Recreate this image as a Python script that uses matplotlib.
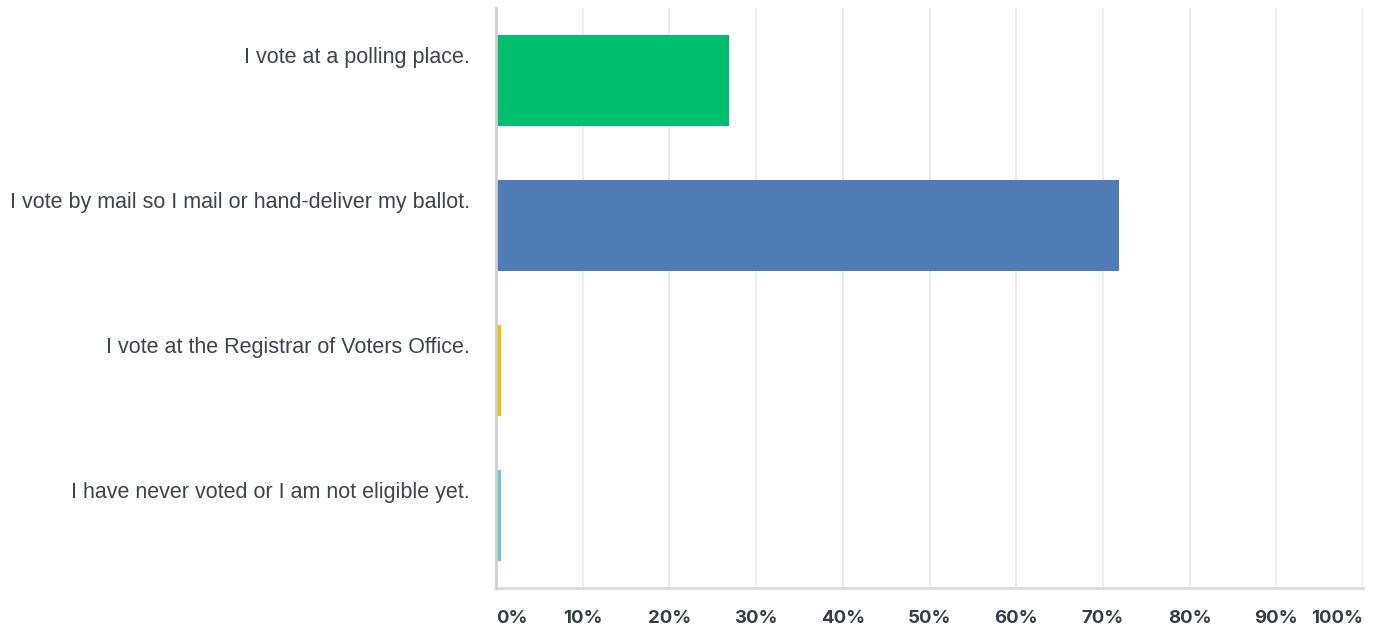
import matplotlib
matplotlib.use("Agg")
import matplotlib.pyplot as plt
from matplotlib.ticker import FixedLocator
from matplotlib.transforms import blended_transform_factory

# survey answers and share of respondents (%)
categories = [
    "I vote at a polling place.",
    "I vote by mail so I mail or hand-deliver my ballot.",
    "I vote at the Registrar of Voters Office.",
    "I have never voted or I am not eligible yet.",
]
shares = [26.9, 71.8, 0.6, 0.6]
colors = ["#00bf6f", "#507cb6", "#f9be00", "#6bc8cd"]
tick_values = [0, 10, 20, 30, 40, 50, 60, 70, 80, 90, 100]
tick_labels = [f"{v}%" for v in tick_values]

fig = plt.figure(figsize=(13.76, 6.30), dpi=100)
ax = fig.add_axes([0.3605, 0.0667, 0.6301, 0.9206])

ypos = list(range(len(categories)))
ax.barh(ypos, shares, height=0.628, color=colors, zorder=3)

ax.set_xlim(0, 100)
ax.set_ylim(len(categories) - 0.5, -0.5)

# light vertical grid
ax.xaxis.set_major_locator(FixedLocator(tick_values))
ax.grid(axis="x", color="#ececec", linewidth=1.5, zorder=0)
ax.grid(axis="y", visible=False)

for side in ("top", "right"):
    ax.spines[side].set_visible(False)
ax.spines["left"].set_color("#cfcfcf")
ax.spines["left"].set_linewidth(2)
ax.spines["bottom"].set_color("#d9d9d9")
ax.spines["bottom"].set_linewidth(2)
ax.spines["left"].set_zorder(4)

# category labels sit a bit above the bar centre, right-aligned left of the axis
ax.set_yticks([])
lab_tr = blended_transform_factory(ax.transAxes, ax.transData)
for y, name in zip(ypos, categories):
    ax.text(-0.030, y - 0.16, name, transform=lab_tr, ha="right", va="center",
            fontsize=15.5, color="#3b4450",
            family=["Liberation Sans", "DejaVu Sans"])

ax.set_xticks(tick_values)
ax.set_xticklabels(tick_labels, fontsize=13.4, fontweight="bold", color="#333e48",
                   family=["Inter", "DejaVu Sans"])
ax.tick_params(axis="x", length=0, pad=16)
xl = ax.get_xticklabels()
xl[0].set_ha("left")
xl[-1].set_ha("right")

fig.savefig("out.png", dpi=100, facecolor="white")
